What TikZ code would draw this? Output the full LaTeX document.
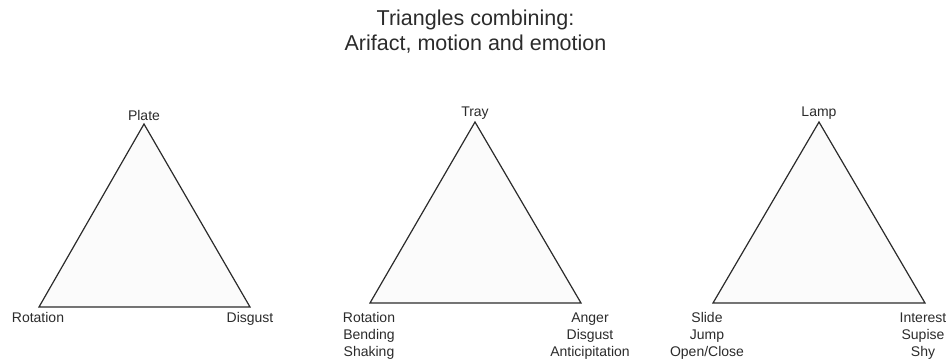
\documentclass[tikz,border=0pt]{standalone}
\usepackage{fontspec}
\setmainfont{Liberation Sans}
\definecolor{ink}{HTML}{2B2B2B}
\definecolor{tfill}{HTML}{FBFBFB}
\begin{document}
\begin{tikzpicture}[x=1pt,y=-1pt,
  tri/.style={draw=ink,line width=1.2pt,fill=tfill,line join=miter},
  lab/.style={inner sep=0pt,outer sep=0pt,text=ink,font=\fontsize{14}{17}\selectfont,align=center,anchor=base},
  ttl/.style={inner sep=0pt,text=ink,font=\fontsize{21.5}{25}\selectfont,align=center,anchor=base}]
\useasboundingbox (0,0) rectangle (946,363);
\node[ttl] (title) at (475.5,51) {Triangles combining:\\Arifact, motion and emotion};
% triangle 1
\coordinate (a1) at (144,124);
\coordinate (b1) at (39,307);
\coordinate (c1) at (250,307);
\draw[tri] (a1) -- (b1) -- (c1) -- cycle;
\node[lab] (p1) at (144,121) {Plate};
\node[lab] (l1) at (38,323) {Rotation};
\node[lab] (r1) at (250,323) {Disgust};
% triangle 2
\coordinate (a2) at (475,122);
\coordinate (b2) at (370,303);
\coordinate (c2) at (581,303);
\draw[tri] (a2) -- (b2) -- (c2) -- cycle;
\node[lab] (p2) at (475,117) {Tray};
\node[lab] (l2) at (369,357) {Rotation\\Bending\\Shaking};
\node[lab] (r2) at (590,357) {Anger\\Disgust\\Anticipitation};
% triangle 3
\coordinate (a3) at (819,122);
\coordinate (b3) at (713,303);
\coordinate (c3) at (925,303);
\draw[tri] (a3) -- (b3) -- (c3) -- cycle;
\node[lab] (p3) at (819,117) {Lamp};
\node[lab] (l3) at (707,357) {Slide\\Jump\\Open/Close};
\node[lab] (r3) at (923,357) {Interest\\Supise\\Shy};
\end{tikzpicture}
\end{document}
